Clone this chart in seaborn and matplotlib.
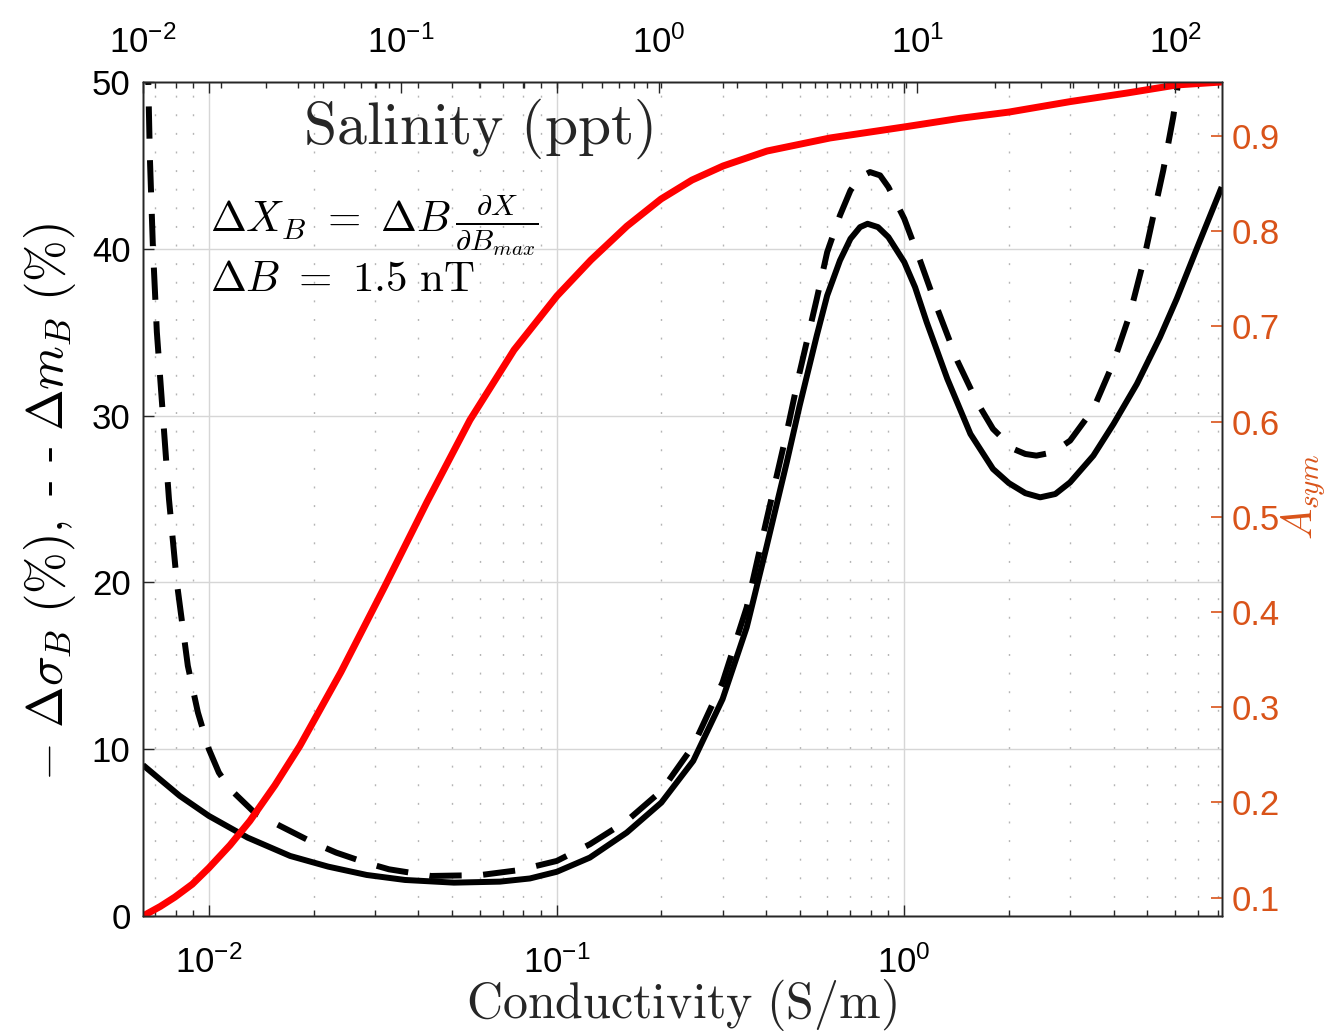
"""Field sensitivity vs. conductivity, with A_sym and a salinity scale on top."""

import numpy as np
import pandas as pd
import matplotlib
matplotlib.use("Agg")
import matplotlib.pyplot as plt
from matplotlib.ticker import FixedLocator, FuncFormatter, LogLocator, NullFormatter
import seaborn as sns


# conductivity (S/m) and -delta sigma_B (%), solid curve
cond_solid = [0.00645, 0.00721, 0.00823, 0.00998, 0.0129, 0.0171, 0.0220, 0.0284,
              0.0366, 0.0506, 0.0686, 0.0837, 0.100, 0.1245, 0.159, 0.200, 0.247,
              0.300, 0.352, 0.400, 0.459, 0.500, 0.560, 0.600, 0.653, 0.700,
              0.746, 0.784, 0.840, 0.900, 1.00, 1.074, 1.16, 1.33, 1.55, 1.80,
              2.00, 2.23, 2.46, 2.72, 3.00, 3.50, 4.00, 4.67, 5.44, 6.08, 6.94, 8.19]
dsigma = [9.05, 8.2, 7.2, 6.0, 4.7, 3.6, 2.96, 2.46,
          2.16, 2.0, 2.06, 2.25, 2.65, 3.5, 5.0, 6.8, 9.3,
          13.0, 17.3, 22.0, 27.2, 30.6, 34.8, 37.2, 39.3, 40.6,
          41.3, 41.5, 41.3, 40.7, 39.2, 37.7, 35.6, 32.2, 28.9, 26.8,
          25.95, 25.35, 25.1, 25.3, 26.0, 27.6, 29.5, 31.9, 34.7, 37.0, 40.0, 43.7]

# conductivity (S/m) and delta m_B (%), dashed curve
cond_dash = [0.00645, 0.00668, 0.00675, 0.00689, 0.00707, 0.00736, 0.00766, 0.00807,
             0.00868, 0.00928, 0.00998, 0.01066, 0.0115, 0.0135, 0.0160, 0.0199,
             0.0232, 0.0282, 0.0329, 0.0435, 0.0601, 0.0778, 0.100, 0.1245, 0.159,
             0.200, 0.247, 0.300, 0.352, 0.400, 0.459, 0.500, 0.560, 0.600,
             0.653, 0.700, 0.746, 0.797, 0.852, 0.900, 1.00, 1.11, 1.24, 1.42,
             1.62, 1.80, 2.06, 2.23, 2.40, 2.68, 3.00, 3.50, 4.00, 4.46, 4.87,
             5.21, 5.56, 5.94, 6.22]
dm = [58, 50, 45.5, 40, 35, 30, 25, 20,
      15, 12.2, 10, 8.6, 7.6, 6.2, 5.4, 4.4,
      3.8, 3.2, 2.8, 2.4, 2.45, 2.75, 3.3, 4.3, 5.7,
      7.5, 10.2, 14.0, 18.5, 23.6, 29.0, 32.6, 37.0, 39.8,
      42.0, 43.5, 44.3, 44.6, 44.4, 43.7, 41.8, 39.3, 36.5, 33.3,
      30.8, 29.2, 28.0, 27.7, 27.6, 27.8, 28.5, 30.4, 33.2, 36.1, 39.2,
      42.0, 44.7, 47.9, 50.8]

# conductivity (S/m) and A_sym, red curve on the right axis
cond_asym = [0.00645, 0.00723, 0.00797, 0.00894, 0.00998, 0.01148, 0.01309, 0.01546,
             0.01823, 0.02394, 0.03205, 0.04234, 0.05628, 0.07535, 0.1001, 0.1254,
             0.1592, 0.1996, 0.245, 0.3011, 0.4028, 0.6115, 1.00, 1.45, 2.00,
             3.00, 4.37, 6.08, 8.19]
asym = [0.0806, 0.0906, 0.1005, 0.114, 0.1311, 0.155, 0.1804, 0.218,
        0.2592, 0.3369, 0.4272, 0.5155, 0.6016, 0.6751, 0.7318, 0.7696,
        0.8052, 0.8337, 0.8536, 0.8684, 0.8841, 0.8978, 0.9094, 0.9185, 0.925,
        0.936, 0.945, 0.9535, 0.9566]

cond_lim = (0.00645, 8.19)
sal_lim = (0.01, 151)
left_ticks = [0, 10, 20, 30, 40, 50]
right_ticks = [0.1, 0.2, 0.3, 0.4, 0.5, 0.6, 0.7, 0.8, 0.9]
cond_decades = [1e-2, 1e-1, 1e0]
sal_decades = [1e-2, 1e-1, 1e0, 1e1, 1e2]

ORANGE = '#D95319'
GRID_MAJOR = '#d6d6d6'
GRID_MINOR = '#b4b4b4'
TEXT_GREY = '#262626'

sns.set_theme(style="ticks")
plt.rcParams['font.family'] = ['Liberation Sans', 'DejaVu Sans']
plt.rcParams['mathtext.fontset'] = 'cm'
plt.rcParams['axes.edgecolor'] = TEXT_GREY
plt.rcParams['axes.linewidth'] = 1.0

df_solid = pd.DataFrame({'cond': cond_solid, 'val': dsigma})
df_dash = pd.DataFrame({'cond': cond_dash, 'val': dm})
df_asym = pd.DataFrame({'cond': cond_asym, 'val': asym})


def decade_label(v, pos):
    return r'$\mathregular{10^{%d}}$' % int(round(np.log10(v)))


fig = plt.figure(figsize=(13.31, 10.36), dpi=100)
ax = fig.add_axes([0.10744, 0.11583, 0.81044, 0.80502])
ax.set_xscale('log')

sns.lineplot(data=df_solid, x='cond', y='val', ax=ax, color='black', lw=4.3,
             errorbar=None, solid_capstyle='butt', solid_joinstyle='round')
sns.lineplot(data=df_dash, x='cond', y='val', ax=ax, color='black', lw=4.3,
             errorbar=None, linestyle=(0, (5.4, 3.6)))

ax.set_xlim(cond_lim)
ax.set_ylim(left_ticks[0], left_ticks[-1])

# right axis: A_sym
axr = ax.twinx()
axr.set_xscale('log')
sns.lineplot(data=df_asym, x='cond', y='val', ax=axr, color='#ff0000', lw=5.0,
             errorbar=None, solid_capstyle='butt', solid_joinstyle='round')
axr.set_xlim(cond_lim)
axr.set_ylim(min(asym), max(asym))
axr.yaxis.set_major_locator(FixedLocator(right_ticks))
axr.set_yticklabels([f'{t:.1f}' for t in right_ticks])
axr.tick_params(axis='y', which='major', direction='in', length=8, width=1.2,
                colors=ORANGE, labelsize=25, pad=7)
axr.set_xlabel('')
axr.set_ylabel('')
fig.text(1304 / 1331, 1 - 497 / 1036, r'$A_{sym}$', rotation=90, ha='center',
         va='center', fontsize=30, color=ORANGE)

# top axis: salinity
axt = ax.twiny()
axt.set_xscale('log')
axt.set_xlim(sal_lim)
axt.xaxis.set_major_locator(FixedLocator(sal_decades))
axt.xaxis.set_major_formatter(FuncFormatter(decade_label))
axt.xaxis.set_minor_locator(LogLocator(base=10, subs=np.arange(2, 10), numticks=20))
axt.xaxis.set_minor_formatter(NullFormatter())
axt.tick_params(axis='x', which='major', direction='in', length=8, width=1,
                labelsize=25, labelcolor='black', pad=16)
axt.tick_params(axis='x', which='minor', direction='in', length=4, width=1)
axt.set_xlabel(r'$\mathrm{Salinity\ (ppt)}$', fontsize=43, color=TEXT_GREY, va='center')
axt.xaxis.set_label_coords(0.3106, 0.944)

# bottom axis: conductivity
ax.xaxis.set_major_locator(FixedLocator(cond_decades))
ax.xaxis.set_major_formatter(FuncFormatter(decade_label))
ax.xaxis.set_minor_locator(LogLocator(base=10, subs=np.arange(2, 10), numticks=20))
ax.xaxis.set_minor_formatter(NullFormatter())
ax.yaxis.set_major_locator(FixedLocator(left_ticks))
ax.tick_params(axis='x', which='both', top=True, labeltop=False)
ax.tick_params(axis='x', which='major', direction='in', length=8, width=1,
               labelsize=25, labelcolor='black', pad=21)
ax.tick_params(axis='x', which='minor', direction='in', length=4, width=1)
ax.tick_params(axis='y', which='major', direction='in', length=8, width=1,
               labelsize=25, labelcolor='black', pad=9, left=True, right=False)

ax.grid(True, which='major', axis='x', color=GRID_MAJOR, lw=1.0, ls='-')
ax.grid(True, which='minor', axis='x', color=GRID_MINOR, lw=1.0, ls=(0, (1.4, 12)))
ax.grid(True, which='major', axis='y', color=GRID_MAJOR, lw=1.0, ls='-')
ax.set_axisbelow(True)

ax.set_xlabel(r'$\mathrm{Conductivity\ (S/m)}$', fontsize=36, color=TEXT_GREY, va='center')
ax.xaxis.set_label_coords(0.4988, -0.1065)
ax.set_ylabel(r'$-\ \Delta\sigma_B\ (\%),\ \text{- -}\ \Delta m_B\ (\%)$',
              fontsize=36, color='black', va='center')
ax.yaxis.set_label_coords(-0.0862, 0.496)

ax.text(0.0621, 0.819, r'$\Delta X_B\ =\ \Delta B\,\frac{\partial X}{\partial B_{max}}$',
        transform=ax.transAxes, fontsize=31, va='baseline', ha='left', color='black')
ax.text(0.0621, 0.749, r'$\Delta B\ =\ 1.5\ \mathrm{nT}$',
        transform=ax.transAxes, fontsize=31, va='baseline', ha='left', color='black')

for a in (ax, axr, axt):
    for s in a.spines.values():
        s.set_color(TEXT_GREY)
        s.set_linewidth(1.0)

fig.savefig('out.png', dpi=100)
